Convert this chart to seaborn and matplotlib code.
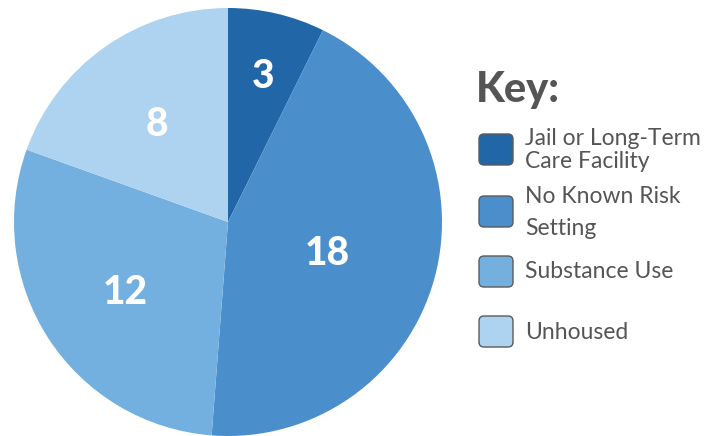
import matplotlib
matplotlib.use("Agg")
import matplotlib.pyplot as plt
import seaborn as sns
import numpy as np
from matplotlib.patches import FancyBboxPatch

categories = ["Jail or Long-Term\nCare Facility", "No Known Risk\nSetting", "Substance Use", "Unhoused"]
counts = [3, 18, 12, 8]
colors = ["#2166a7", "#4a8fcb", "#73b0e0", "#aed3f1"]


def main():
    sns.set_style("white")
    plt.rcParams['font.family'] = ['Lato', 'DejaVu Sans']

    fig = plt.figure(figsize=(7.16, 4.36), dpi=100)

    # pie axes: centre at (228, 222) px, radius 214 px
    ax = fig.add_axes([(228 - 214) / 716, (436 - 222 - 214) / 436, 428 / 716, 428 / 436])
    wedges, _ = ax.pie(counts, colors=colors, startangle=90, counterclock=False,
                       radius=1.0, wedgeprops=dict(linewidth=0))
    ax.set_xlim(-1, 1)
    ax.set_ylim(-1, 1)
    ax.set_aspect('equal')
    ax.axis('off')

    # value labels inside wedges, with per-wedge radial distance
    label_r = [0.72, 0.48, 0.57, 0.58]
    for w, val, r in zip(wedges, counts, label_r):
        ang = np.deg2rad((w.theta1 + w.theta2) / 2)
        ax.text(r * np.cos(ang), r * np.sin(ang) - 0.02, str(val), color='white',
                fontsize=28, fontweight='black', ha='center', va='center')

    # legend drawn in pixel space
    lg = fig.add_axes([0, 0, 1, 1])
    lg.set_xlim(0, 716)
    lg.set_ylim(436, 0)
    lg.axis('off')
    lg.patch.set_alpha(0)

    text_col = '#555555'
    lg.text(476, 90, "Key:", fontsize=30, fontweight='black', color=text_col,
            ha='left', va='center')

    box_tops = [131, 193, 253, 313]
    text_lines = [(138, 161), (196, 228), (271,), (332,)]
    for cat, col, top, ys in zip(categories, colors, box_tops, text_lines):
        lg.add_patch(FancyBboxPatch((479, top + 3), 34, 31,
                                    boxstyle="round,pad=0,rounding_size=5",
                                    facecolor=col, edgecolor='#5a5a5a', linewidth=1.0))
        for line, y in zip(cat.split("\n"), ys):
            lg.text(525, y, line, fontsize=16.5, color=text_col, ha='left', va='center')

    fig.savefig("out.png", dpi=100)


if __name__ == '__main__':
    main()
